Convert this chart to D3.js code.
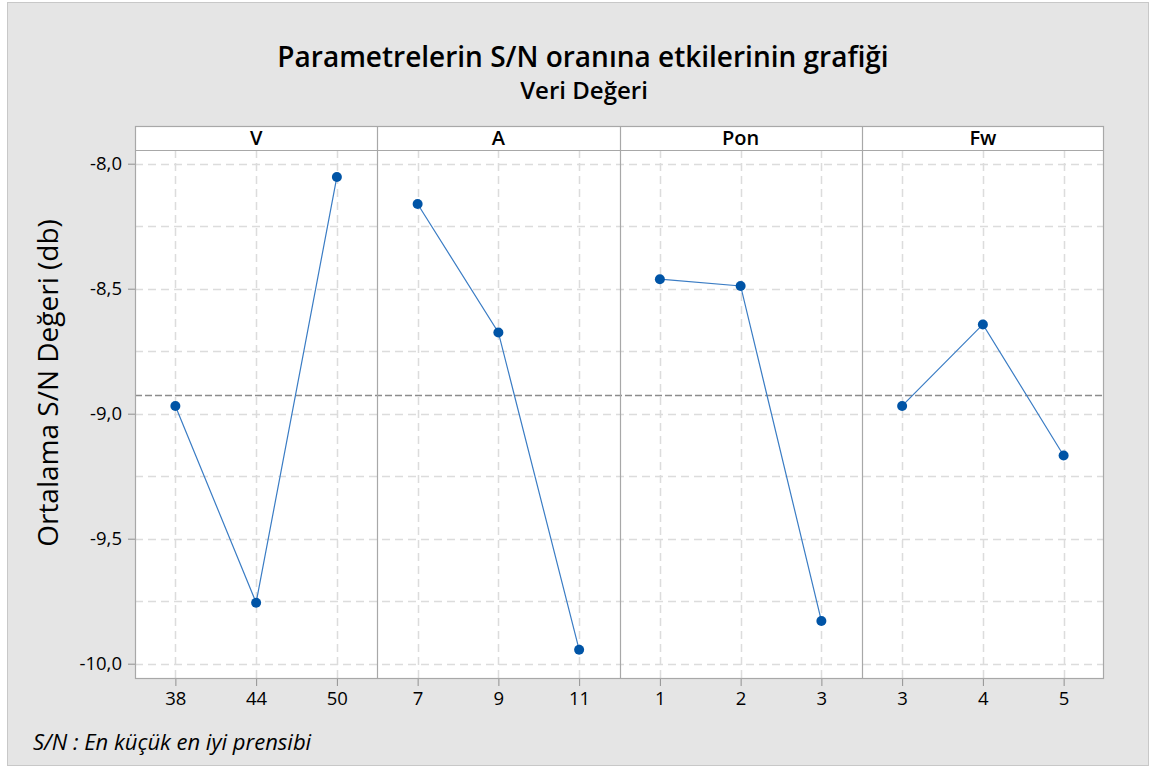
<!DOCTYPE html>
<html>
<head>
<meta charset="utf-8">
<script src="https://cdn.jsdelivr.net/npm/d3@7"></script>
<style>
  html, body { margin: 0; padding: 0; background: #ffffff; }
  svg { display: block; font-family: "Open Sans", "Noto Sans", sans-serif; }
</style>
</head>
<body>
<svg id="chart" width="1153" height="769"></svg>
<script>
// ---- Data ----
const factors = ["V", "A", "Pon", "Fw"];
const levelsV = ["38", "44", "50"];
const levelsA = ["7", "9", "11"];
const levelsPon = ["1", "2", "3"];
const levelsFw = ["3", "4", "5"];
const valuesV = [-8.969, -9.756, -8.053];
const valuesA = [-8.161, -8.675, -9.944];
const valuesPon = [-8.462, -8.489, -9.829];
const valuesFw = [-8.969, -8.643, -9.167];
const overallMean = -8.927;
const yTickValues = [-8.0, -8.5, -9.0, -9.5, -10.0];
const yGridValues = [-8.0, -8.25, -8.5, -8.75, -9.0, -9.25, -9.5, -9.75, -10.0];
const titleText = "Parametrelerin S/N oranına etkilerinin grafiği";
const subtitleText = "Veri Değeri";
const yAxisTitle = "Ortalama S/N Değeri (db)";
const footnote = "S/N : En küçük en iyi prensibi";

const panels = [
  { name: factors[0], levels: levelsV, values: valuesV },
  { name: factors[1], levels: levelsA, values: valuesA },
  { name: factors[2], levels: levelsPon, values: valuesPon },
  { name: factors[3], levels: levelsFw, values: valuesFw }
];

// ---- Layout ----
const svg = d3.select("#chart");
const W = 1153, H = 769;
const plotLeft = 135, plotRight = 1104;
const stripTop = 126, plotTop = 150, plotBottom = 679;
const panelW = (plotRight - plotLeft) / panels.length;
const blue = "#0054a6";

// background
svg.append("rect").attr("x", 0).attr("y", 0).attr("width", W).attr("height", H).attr("fill", "#ffffff");
svg.append("rect").attr("x", 7.5).attr("y", 2.5).attr("width", 1141).attr("height", 763)
  .attr("fill", "#e5e5e5").attr("stroke", "#c8c8c8").attr("stroke-width", 1);

// title
svg.append("text").attr("x", 583).attr("y", 67).attr("text-anchor", "middle")
  .attr("font-size", 28).attr("font-weight", 600).attr("fill", "#000").text(titleText);
svg.append("text").attr("x", 584).attr("y", 99).attr("text-anchor", "middle")
  .attr("font-size", 24).attr("font-weight", 600).attr("fill", "#000").text(subtitleText);

// y scale
const y = d3.scaleLinear().domain([-7.9452, -10.0612]).range([plotTop, plotBottom]);

// plot background
svg.append("rect").attr("x", plotLeft).attr("y", stripTop).attr("width", plotRight - plotLeft)
  .attr("height", plotBottom - stripTop).attr("fill", "#ffffff");

// horizontal grid (dashed)
svg.append("g").selectAll("line").data(yGridValues).join("line")
  .attr("x1", plotLeft).attr("x2", plotRight)
  .attr("y1", d => Math.round(y(d)) + 0.5).attr("y2", d => Math.round(y(d)) + 0.5)
  .attr("stroke", "#dcdcdc").attr("stroke-width", 1.5).attr("stroke-dasharray", "8,5");

// y axis
const yAxis = d3.axisLeft(y).tickValues(yTickValues).tickSize(7).tickPadding(6)
  .tickFormat(d => d3.format(".1f")(d).replace(".", ",").replace("−", "-"));
const gy = svg.append("g").attr("transform", `translate(${plotLeft},0)`).call(yAxis);
gy.select(".domain").remove();
gy.selectAll(".tick line").attr("stroke", "#909090");
gy.selectAll(".tick text").attr("font-size", 18.5).attr("fill", "#000")
  .attr("font-family", "'Open Sans', sans-serif");

// panels
panels.forEach((p, i) => {
  const x0 = plotLeft + i * panelW;
  const x = d3.scalePoint().domain(p.levels).range([x0, x0 + panelW]).padding(0.5);
  const g = svg.append("g");

  // vertical grid
  g.selectAll("line.vg").data(p.levels).join("line").attr("class", "vg")
    .attr("x1", d => Math.round(x(d)) + 0.5).attr("x2", d => Math.round(x(d)) + 0.5)
    .attr("y1", plotTop).attr("y2", plotBottom)
    .attr("stroke", "#dcdcdc").attr("stroke-width", 1.5).attr("stroke-dasharray", "8,5");

  // x axis
  const xAxis = d3.axisBottom(x).tickSize(7).tickPadding(6);
  const gx = g.append("g").attr("transform", `translate(0,${plotBottom})`).call(xAxis);
  gx.select(".domain").remove();
  gx.selectAll(".tick line").attr("stroke", "#909090");
  gx.selectAll(".tick text").attr("font-size", 18.5).attr("fill", "#000")
    .attr("font-family", "'Open Sans', sans-serif");

  // strip label
  g.append("text").attr("x", x0 + panelW / 2).attr("y", 145).attr("text-anchor", "middle")
    .attr("font-size", 20).attr("font-weight", 600).attr("fill", "#000").text(p.name);

  p._x = x;
});

// overall mean line
svg.append("line").attr("x1", plotLeft).attr("x2", plotRight)
  .attr("y1", y(overallMean)).attr("y2", y(overallMean))
  .attr("stroke", "#8c8c8c").attr("stroke-width", 1.5).attr("stroke-dasharray", "7,3");

// data lines and points
panels.forEach(p => {
  const pts = p.levels.map((l, j) => [p._x(l), y(p.values[j])]);
  svg.append("path").attr("d", d3.line()(pts)).attr("fill", "none")
    .attr("stroke", "#3a7cc4").attr("stroke-width", 1.2);
  svg.append("g").selectAll("circle").data(pts).join("circle")
    .attr("cx", d => d[0]).attr("cy", d => d[1]).attr("r", 5).attr("fill", blue);
});

// borders
const borderColor = "#a8a8a8";
svg.append("rect").attr("x", plotLeft + 0.5).attr("y", stripTop + 0.5)
  .attr("width", plotRight - plotLeft - 1).attr("height", plotBottom - stripTop - 1)
  .attr("fill", "none").attr("stroke", borderColor).attr("stroke-width", 1.2);
svg.append("line").attr("x1", plotLeft).attr("x2", plotRight)
  .attr("y1", plotTop + 0.5).attr("y2", plotTop + 0.5)
  .attr("stroke", borderColor).attr("stroke-width", 1.2);
svg.append("g").selectAll("line").data(d3.range(1, panels.length)).join("line")
  .attr("x1", i => Math.round(plotLeft + i * panelW) + 0.5)
  .attr("x2", i => Math.round(plotLeft + i * panelW) + 0.5)
  .attr("y1", stripTop).attr("y2", plotBottom)
  .attr("stroke", borderColor).attr("stroke-width", 1.2);

// y axis title
svg.append("text").attr("transform", `translate(58,383) rotate(-90)`)
  .attr("text-anchor", "middle").attr("font-size", 28).attr("fill", "#000").text(yAxisTitle);

// footnote
svg.append("text").attr("x", 33).attr("y", 750).attr("font-size", 22)
  .attr("font-style", "italic").attr("fill", "#000").text(footnote);
</script>
</body>
</html>
